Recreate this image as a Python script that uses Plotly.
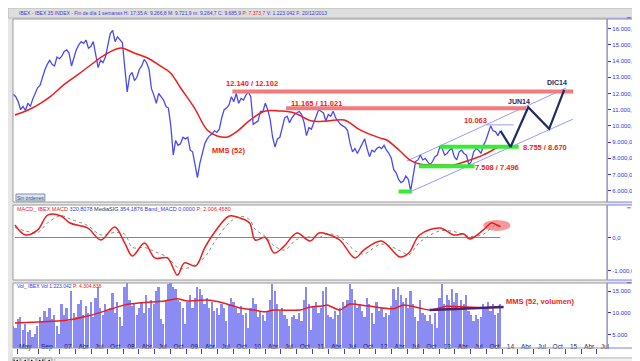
import plotly.graph_objects as go
import pandas as pd
from datetime import datetime

W, H = 640, 361


def px(x):
    return x / W


def py(y):
    return 1 - y / H


def yr(t):
    y = int(t)
    a, b = datetime(y, 1, 1), datetime(y + 1, 1, 1)
    return (a + (b - a) * (t - y)).strftime("%Y-%m-%d")


# ---------------- DATA ----------------
# biweekly closes (Apr 2006 .. 20 Dec 2013)
price_dates = pd.date_range(end="2013-12-20", periods=202, freq="14D")
p2006 = [11950, 11800, 11500, 11000, 11200, 10950, 11400, 11200, 11650, 12050, 12350, 12500, 13000, 13450,
         13800, 14050, 13800, 13700, 14250, 14150]
p2007 = [14300, 14600, 14700, 14500, 13700, 14200, 14700, 15000, 15200, 15100, 15300, 14800, 14900, 15200,
         14300, 13600, 14050, 13900, 14250, 14900, 15700, 15900, 15200, 15500, 15300, 15150]
p2008 = [13600, 12100, 13100, 13300, 12800, 13000, 13500, 13700, 14100, 13900, 13500, 12300, 11900, 11400,
         12000, 11800, 11600, 11200, 11100, 10000, 8200, 9100, 8800, 8900, 9300, 9200]
p2009 = [9300, 8500, 8400, 7600, 6800, 7700, 8300, 8900, 9200, 9400, 9500, 9700, 9600, 9800, 10500, 11000,
         11100, 11300, 11800, 11500, 12000, 11400, 11700, 11600, 11900, 12100]
p2010 = [11800, 10100, 10200, 10300, 10900, 10900, 11400, 11000, 10400, 9300, 8700, 9200, 9300, 9900, 10500,
         10600, 10200, 10500, 10700, 10800, 10900, 10700, 10200, 9400, 9900, 9800]
p2011 = [10200, 10700, 11000, 10900, 10800, 10300, 10700, 10600, 10900, 10500, 10300, 10100, 10000, 9900, 9700,
         8900, 8400, 8600, 8300, 8600, 9000, 9200, 8600, 8100, 8500, 8400]
p2012 = [8600, 8700, 8600, 8800, 8500, 8300, 8000, 7300, 7100, 6700, 6500, 6600, 6900, 6700, 6000, 6800, 7800,
         7900, 8200, 7900, 8000, 7800, 7600, 7800, 8100, 8200]
p2013 = [8700, 8600, 8200, 8300, 8500, 8600, 8100, 7900, 8400, 8500, 8300, 8200, 7600, 7800, 8400, 8600, 8500,
         8300, 8800, 9100, 9600, 10000, 9700, 9650, 9400, 9690]
price_close = p2006 + p2007 + p2008 + p2009 + p2010 + p2011 + p2012 + p2013

# volume (thousands)
v2006 = [7000, 6500, 8500, 9000, 6000, 7500, 5500, 6000, 4500, 5000, 7000, 9000, 8000, 10500, 9000, 11000, 8500,
         9500, 7000, 5000]
v2007 = [12000, 9500, 11000, 8000, 15000, 10000, 9000, 12000, 13000, 9500, 11500, 10000, 12500, 9000, 13500, 16000,
         11000, 9500, 12000, 10500, 11000, 14500, 10000, 12500, 9000, 7000]
v2008 = [16000, 17000, 13000, 11500, 12000, 9500, 11000, 12500, 10000, 14000, 11000, 13000, 12000, 15000, 16000,
         8500, 7500, 13000, 16500, 17000, 16000, 15500, 13000, 12500, 11000, 7500]
v2009 = [12500, 14000, 11000, 13500, 16000, 15500, 14000, 12000, 13500, 11000, 12500, 10500, 11000, 9500, 12000,
         11000, 8000, 12000, 13500, 12500, 11000, 10000, 11500, 9500, 10000, 6500]
v2010 = [11000, 13500, 12000, 9000, 10500, 9500, 8000, 10500, 13000, 16500, 15000, 12000, 10500, 11000, 9500, 8500,
         7000, 9000, 9500, 8500, 10000, 8000, 13000, 16000, 12000, 6000]
v2011 = [11500, 12500, 10000, 11000, 15000, 16000, 9500, 9000, 8500, 10500, 9500, 11000, 12500, 11500, 13000, 16500,
         15500, 13000, 11000, 12000, 10500, 9000, 13500, 12000, 10000, 7500]
v2012 = [12500, 10500, 11000, 9000, 10000, 9500, 11500, 15500, 13000, 16000, 14000, 12500, 13500, 11000, 15000,
         12000, 9000, 8000, 13000, 10000, 9500, 8000, 9500, 7500, 10000, 6500]
v2013 = [13500, 16500, 12000, 14000, 13000, 15500, 12500, 14500, 11000, 13000, 12000, 14000, 10500, 9500, 8000,
         9500, 8500, 9000, 12000, 11000, 12500, 10500, 12000, 9500, 10000, 12000]
volume = v2006 + v2007 + v2008 + v2009 + v2010 + v2011 + v2012 + v2013

# 52-week moving average of price
sma_t = [2006.29, 2006.50, 2006.70, 2006.86, 2007.08, 2007.28, 2007.49, 2007.71, 2007.96, 2008.18, 2008.39,
         2008.59, 2008.75, 2008.91, 2009.13, 2009.33, 2009.49, 2009.65, 2009.81, 2010.01, 2010.25, 2010.49,
         2010.71, 2010.99, 2011.23, 2011.50, 2011.75, 2012.06, 2012.17, 2012.38, 2012.54, 2012.69, 2013.00,
         2013.23, 2013.44, 2013.70, 2013.91, 2013.97]
sma_v = [10670, 10980, 11410, 11840, 12590, 13150, 13760, 14380, 14810, 14500, 14190, 13700, 13270, 12340, 11100,
         9750, 9380, 9310, 9680, 10360, 10920, 10920, 10800, 10300, 10300, 10360, 9750, 9260, 9130, 8450, 7890,
         7650, 7590, 7590, 7830, 8210, 8640, 8740]

# MACD and signal
macd_t = [2006.29, 2006.46, 2006.65, 2006.81, 2007.02, 2007.16, 2007.44, 2007.65, 2007.87, 2008.03, 2008.15,
          2008.34, 2008.50, 2008.70, 2008.86, 2008.97, 2009.15, 2009.29, 2009.46, 2009.68, 2009.85, 2010.00,
          2010.09, 2010.25, 2010.39, 2010.55, 2010.75, 2010.96, 2011.10, 2011.23, 2011.43, 2011.67, 2011.81,
          2012.09, 2012.38, 2012.52, 2012.69, 2013.01, 2013.23, 2013.39, 2013.48, 2013.70, 2013.83, 2013.91,
          2013.97]
macd_v = [380, 76, 230, 680, 650, 440, 290, -76, 320, -170, -560, -170, -620, -620, -1140, -770, -860, -320, 190,
          650, 590, 440, -76, 0, -470, -260, 136, -106, 136, 106, -76, -620, -380, -106, -590, -470, 76, 290, 76,
          106, -45, 230, 440, 380, 330]
signal_v = [300, 200, 150, 450, 660, 560, 360, 80, 150, 100, -300, -300, -430, -600, -900, -950, -800, -600, -100,
            450, 640, 540, 250, 30, -250, -380, -60, 20, 0, 110, 20, -400, -500, -200, -400, -520, -150, 200, 180,
            90, 30, 100, 300, 380, 360]

# 52-period moving average of volume
vma_t = [2006.29, 2006.65, 2006.97, 2007.13, 2007.49, 2007.76, 2008.03, 2008.39, 2008.66, 2008.86, 2009.02,
         2009.33, 2009.60, 2009.85, 2010.08, 2010.23, 2010.39, 2010.80, 2010.96, 2011.18, 2011.23, 2011.43,
         2011.59, 2011.86, 2012.28, 2012.44, 2012.69, 2012.85, 2013.12, 2013.44, 2013.70, 2013.97]
vma_v = [7630, 7860, 8100, 8300, 9400, 10600, 11800, 12400, 12700, 13200, 12700, 12900, 12200, 11100, 10600,
         10200, 10600, 10600, 11300, 11600, 11800, 10600, 12000, 11600, 10900, 11800, 11100, 10600, 11500, 11300,
         11100, 11500]

# analysis drawings
res_levels = [12120, 11090]
res_start = [2009.73, 2010.58]
res_end = [2015.12, 2014.38]
sup_levels = [8710, 7502, 5950]
sup_start = [2013.01, 2012.68, 2012.36]
sup_end = [2014.26, 2013.56, 2012.57]
chan_t = [[2012.49, 2015.01], [2012.57, 2015.12]]
chan_v = [[7830, 12340], [5975, 10420]]
top_line_t = [2013.75, 2014.18]
top_line_v = 10063
proj_t = [2013.97, 2014.13, 2014.41, 2014.74, 2014.98]
proj_v = [9690, 8700, 11150, 9820, 12220]
vol_trend_t = [2012.85, 2014.02]
vol_trend_v = [10620, 11310]

price_ticks = [6000, 7000, 8000, 9000, 10000, 11000, 12000, 13000, 14000, 15000, 16000]
price_tick_text = ["6.000,0", "7.000,0", "8.000,0", "9.000,0", "10.000,0", "11.000,0", "12.000,0", "13.000,0",
                   "14.000,0", "15.000,0", "16.000,0"]
macd_ticks = [0, -1000]
macd_tick_text = ["0,0", "-1.000,0"]
vol_ticks = [5000, 10000, 15000]
vol_tick_text = ["5.000", "10.000", "15.000"]

x_tick_dates = ["2006-05-01", "2006-09-01"]
x_tick_text = ["May", "Sep"]
for yy in range(2007, 2016):
    for m, lab in [(1, str(yy)[2:]), (4, "Abr"), (7, "Jul"), (10, "Oct")]:
        x_tick_dates.append(f"{yy}-{m:02d}-01")
        x_tick_text.append(lab)

# ---------------- FIGURE ----------------
FONT = "Arial, Liberation Sans, sans-serif"
BLUE = "#4a4af2"
RED = "#ee1c1c"
NAVY = "#1f2a66"
AXBLUE = "#3333dd"

fig = go.Figure()

# volume
fig.add_trace(go.Bar(x=price_dates, y=volume, yaxis="y3", width=10 * 86400000,
                     marker=dict(color="#8b8bf4", line=dict(width=0)), showlegend=False, hoverinfo="skip"))
fig.add_trace(go.Scatter(x=[yr(t) for t in vma_t], y=vma_v, yaxis="y3", mode="lines",
                         line=dict(color=RED, width=1.5, shape="spline", smoothing=0.6), showlegend=False))
fig.add_trace(go.Scatter(x=[yr(t) for t in vol_trend_t], y=vol_trend_v, yaxis="y3", mode="lines",
                         line=dict(color="#4a2470", width=2.5), showlegend=False))

# MACD
fig.add_trace(go.Scatter(x=[yr(macd_t[0]), "2013-12-20"], y=[0, 0], yaxis="y2", mode="lines",
                         line=dict(color="#7777ff", width=1), showlegend=False))
fig.add_trace(go.Scatter(x=[yr(t) for t in macd_t], y=signal_v, yaxis="y2", mode="lines",
                         line=dict(color="#8a8a8a", width=1, dash="dot", shape="spline"), showlegend=False))
fig.add_trace(go.Scatter(x=[yr(t) for t in macd_t], y=macd_v, yaxis="y2", mode="lines",
                         line=dict(color=RED, width=1.5, shape="spline"), showlegend=False))

# price
for i in range(2):
    fig.add_trace(go.Scatter(x=[yr(t) for t in chan_t[i]], y=chan_v[i], mode="lines",
                             line=dict(color="#9a9aff", width=1), showlegend=False))
fig.add_trace(go.Scatter(x=[yr(t) for t in top_line_t], y=[top_line_v, top_line_v], mode="lines",
                         line=dict(color="#9a9aff", width=1), showlegend=False))
fig.add_trace(go.Scatter(x=price_dates, y=price_close, mode="lines",
                         line=dict(color=BLUE, width=1.3), showlegend=False))
fig.add_trace(go.Scatter(x=[yr(t) for t in sma_t], y=sma_v, mode="lines",
                         line=dict(color=RED, width=1.5, shape="spline"), showlegend=False))
for lv, a, b in zip(res_levels, res_start, res_end):
    fig.add_trace(go.Scatter(x=[yr(a), yr(b)], y=[lv, lv], mode="lines",
                             line=dict(color="#f27c7c", width=4), showlegend=False))
for lv, a, b in zip(sup_levels, sup_start, sup_end):
    fig.add_trace(go.Scatter(x=[yr(a), yr(b)], y=[lv, lv], mode="lines",
                             line=dict(color="#33ee33", width=4), showlegend=False))
fig.add_trace(go.Scatter(x=[yr(t) for t in proj_t], y=proj_v, mode="lines",
                         line=dict(color=NAVY, width=2.2), showlegend=False))

# ---------------- SHAPES ----------------
shapes = []
panels = [(11, 194), (197, 272), (275, 340)]
for t, b in panels:
    shapes.append(dict(type="rect", xref="paper", yref="paper", x0=px(601), x1=px(633), y0=py(b), y1=py(t),
                       fillcolor="white", line=dict(width=0), layer="below"))
    shapes.append(dict(type="rect", xref="paper", yref="paper", x0=px(601), x1=px(633), y0=py(b), y1=py(t),
                       line=dict(color="#8080f0", width=1), layer="above"))
    shapes.append(dict(type="rect", xref="paper", yref="paper", x0=px(5), x1=px(601), y0=py(b), y1=py(t),
                       line=dict(color="#9a9a9a", width=1), layer="above"))
# date label strip
shapes.append(dict(type="rect", xref="paper", yref="paper", x0=px(5), x1=px(633), y0=py(349), y1=py(340),
                   fillcolor="white", line=dict(width=0), layer="below"))
# header bar
shapes.append(dict(type="rect", xref="paper", yref="paper", x0=0, x1=1, y0=py(10), y1=1,
                   fillcolor="#dedede", line=dict(color="#b8b8b8", width=1), layer="below"))
# scrollbar
shapes.append(dict(type="rect", xref="paper", yref="paper", x0=px(47), x1=px(633), y0=py(358), y1=py(350),
                   fillcolor="#f0f0f0", line=dict(color="#c0c0c0", width=1), layer="below"))
# navigation buttons (icons)
for i, (d, bar) in enumerate([(-1, True), (-1, False), (1, False), (1, True), (-1, False)]):
    bx = 5 + i * 8
    shapes.append(dict(type="rect", xref="paper", yref="paper", x0=px(bx), x1=px(bx + 7), y0=py(357),
                       y1=py(350), fillcolor="#ececec", line=dict(color="#9a9a9a", width=1), layer="above"))
    tip, base = (bx + 2, bx + 5) if d < 0 else (bx + 5, bx + 2)
    shapes.append(dict(type="path", xref="paper", yref="paper",
                       path=f"M {px(base)},{py(351.5)} L {px(base)},{py(355.5)} L {px(tip)},{py(353.5)} Z",
                       fillcolor="#111111", line=dict(width=0), layer="above"))
    if bar:
        xb = tip - 0.8 if d < 0 else tip + 0.8
        shapes.append(dict(type="line", xref="paper", yref="paper", x0=px(xb), x1=px(xb), y0=py(355.5),
                           y1=py(351.5), line=dict(color="#111111", width=1), layer="above"))
# "Sin ordenes" button
shapes.append(dict(type="rect", xref="paper", yref="paper", x0=px(8), x1=px(37), y0=py(193), y1=py(186),
                   fillcolor="#dfe6f2", line=dict(color="#8090b0", width=1), layer="above"))
# MACD highlight ellipse
shapes.append(dict(type="circle", xref="x", yref="y2", x0=yr(2013.70), x1=yr(2014.13), y0=200, y1=530,
                   fillcolor="rgba(238,70,70,0.55)", line=dict(width=0), layer="below"))

# ---------------- ANNOTATIONS ----------------
def ann(x, y, text, color, size=7, bold=True, yref="y", xref="x", xanchor="center"):
    return dict(x=x, y=y, xref=xref, yref=yref, text=(f"<b>{text}</b>" if bold else text), showarrow=False,
                font=dict(family=FONT, size=size, color=color), xanchor=xanchor, yanchor="middle",
                borderpad=0)


annotations = [
    ann(yr(2009.67), 8510, "MMS (52)", RED, 7.5),
    ann(yr(2010.04), 12590, "12.140 / 12.102", RED, 7.5),
    ann(yr(2011.06), 11410, "11.165 / 11.021", RED, 7.5),
    ann(yr(2013.58), 10360, "10.063", RED, 7.5),
    ann(yr(2014.67), 8640, "8.755 / 8.670", RED, 7.5),
    ann(yr(2013.92), 7460, "7.508 / 7.496", RED, 7.5),
    ann(yr(2014.27), 11480, "JUN14", NAVY, 7),
    ann(yr(2014.87), 12650, "DIC14", NAVY, 7),
    ann(yr(2014.59), 12470, "MMS (52, volumen)", RED, 7.5, yref="y3"),
    ann(px(10), py(5), "IBEX - IBEX 35 INDEX - Fin de día 1 semanas H: 17:35 A: 9.266,8 M: 9.721,9 m: 9.264,7 "
        "C: 9.685,9 <span style='color:#ee2222'>P: 7.373,7</span> V: 1.223.042 F: 20/12/2013",
        "#3a3ad8", 5, bold=False, xref="paper", yref="paper", xanchor="left"),
    ann(px(8), py(201), "<span style='color:#ee2222'>MACD_ IBEX MACD</span> 320,8078 "
        "<span style='color:#333333'>MediaSIG</span> 354,1876 Band_MACD 0,0000 "
        "<span style='color:#ee2222'>P: 2.006,4580</span>",
        "#3a3ad8", 5.5, bold=False, xref="paper", yref="paper", xanchor="left"),
    ann(px(8), py(278), "Vol_ IBEX Vol 1.223.042 <span style='color:#ee2222'>P: 4.304.838</span>",
        "#3a3ad8", 5, bold=False, xref="paper", yref="paper", xanchor="left"),
    ann(px(22.5), py(189.5), "Sin órdenes", "#334466", 5, bold=False, xref="paper", yref="paper"),
]
for yy in [7, 197, 272]:
    annotations.append(ann(px(626), py(yy), "▁ ▫ ×", "#555555", 5, bold=False, xref="paper", yref="paper"))

ytick = dict(ticks="outside", ticklen=3, tickcolor=AXBLUE, showgrid=False, zeroline=False, showline=False,
             tickfont=dict(family=FONT, size=6, color=AXBLUE), side="right", anchor="x")

fig.update_layout(
    width=W, height=H, autosize=False,
    margin=dict(l=0, r=0, t=0, b=0),
    paper_bgcolor="#e6e6e6", plot_bgcolor="white",
    showlegend=False, bargap=0,
    xaxis=dict(domain=[px(5), px(601)], anchor="y3", type="date", range=[yr(2006.259), yr(2015.659)],
               tickmode="array", tickvals=x_tick_dates, ticktext=x_tick_text, ticks="outside", ticklen=5,
               tickcolor="#4444aa", showgrid=False, zeroline=False, showline=False,
               tickfont=dict(family=FONT, size=6.5, color="#1d1d70"), ticklabelshift=8, ticklabelstandoff=-13),
    yaxis=dict(domain=[py(194), py(11)], range=[5302, 16599], tickvals=price_ticks, ticktext=price_tick_text,
               **ytick),
    yaxis2=dict(domain=[py(272), py(197)], range=[-1288, 985], tickvals=macd_ticks, ticktext=macd_tick_text,
                **ytick),
    yaxis3=dict(domain=[py(340), py(275)], range=[1866, 16843], tickvals=vol_ticks, ticktext=vol_tick_text,
                **ytick),
    shapes=shapes, annotations=annotations,
)

fig.write_html("out.html")
